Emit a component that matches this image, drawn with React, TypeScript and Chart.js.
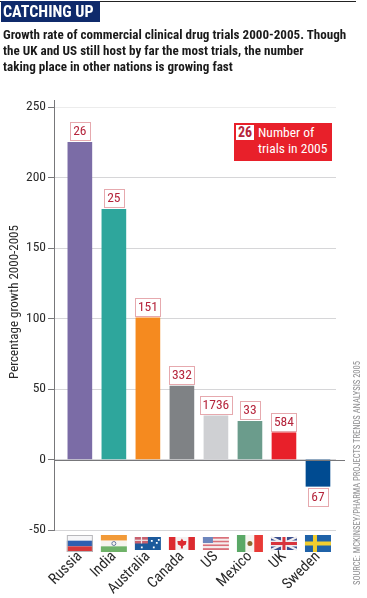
import React, { useEffect, useRef } from "react";
import { Chart, registerables } from "chart.js";

Chart.register(...registerables);

const countries = ["Russia", "India", "Australia", "Canada", "US", "Mexico", "UK", "Sweden"];
const growth = [225, 177.5, 100.5, 52, 31, 27, 19, -19];
const trials = [26, 25, 151, 332, 1736, 33, 584, 67];
const barColors = ["#7b6ca6", "#2ea69c", "#f58a1f", "#7f8285", "#cfd0d3", "#6b9c8c", "#e8202a", "#004b91"];
const yAxisTitle = "Percentage growth 2000-2005";

const FONT = '"Roboto Condensed", Roboto, sans-serif';

type Ctx = CanvasRenderingContext2D;
function drawFlag(c: Ctx, name: string, cx: number) {
  const tall = ["Russia", "India", "Mexico", "Sweden"].includes(name);
  const w = 26;
  const h = tall ? 17 : 13;
  const x = cx - w / 2;
  const y = tall ? 535 : 537;
  const band = (cols: string[], vertical = false) => {
    cols.forEach((col, i) => {
      c.fillStyle = col;
      if (vertical) c.fillRect(x + (i * w) / cols.length, y, w / cols.length, h);
      else c.fillRect(x, y + (i * h) / cols.length, w, h / cols.length);
    });
  };
  c.save();
  if (name === "Russia") {
    band(["#f6f6f8", "#2f5fb0", "#d8383a"]);
    c.strokeStyle = "#b8b8bc";
    c.lineWidth = 1;
    c.strokeRect(x + 0.5, y + 0.5, w - 1, h - 1);
  }
  if (name === "India") {
    band(["#f29a38", "#f6f4ee", "#6fb268"]);
    c.strokeStyle = "#6a7aa0";
    c.beginPath();
    c.arc(cx, y + h / 2, 2, 0, 7);
    c.stroke();
  }
  if (name === "Australia") {
    band(["#1c5a9c"]);
    c.fillStyle = "#c8606e";
    c.fillRect(x, y, 13, 6.5);
    c.fillStyle = "#f0e8ea";
    c.fillRect(x, y + 2.7, 13, 1.2);
    c.fillRect(x + 6, y, 1.2, 6.5);
    c.fillStyle = "#fff";
    [[6, 9.5], [16, 3], [21, 5], [18, 9.5], [23, 2]].forEach(([a, b]) => c.fillRect(x + a, y + b, 1.8, 1.8));
  }
  if (name === "Canada") {
    c.fillStyle = "#f4f2f2";
    c.fillRect(x, y, w, h);
    c.fillStyle = "#dc2b30";
    c.fillRect(x, y, 6.5, h);
    c.fillRect(x + w - 6.5, y, 6.5, h);
    c.beginPath();
    c.moveTo(cx, y + 1.5);
    c.lineTo(cx + 1.5, y + 4);
    c.lineTo(cx + 4.5, y + 4);
    c.lineTo(cx + 4, y + 7.5);
    c.lineTo(cx + 1, y + 9);
    c.lineTo(cx + 1, y + 11.5);
    c.lineTo(cx - 1, y + 11.5);
    c.lineTo(cx - 1, y + 9);
    c.lineTo(cx - 4, y + 7.5);
    c.lineTo(cx - 4.5, y + 4);
    c.lineTo(cx - 1.5, y + 4);
    c.closePath();
    c.fill();
  }
  if (name === "US") {
    band(["#d9707a", "#f4eeee", "#d9707a", "#f4eeee", "#d9707a", "#f4eeee", "#d9707a"]);
    c.fillStyle = "#6d86bd";
    c.fillRect(x, y, 10, 6);
  }
  if (name === "Mexico") {
    band(["#5aa866", "#f6f4f0", "#e83a36"], true);
    c.fillStyle = "#8a6a30";
    c.beginPath();
    c.arc(cx, y + h / 2, 2.5, 0, 7);
    c.fill();
  }
  if (name === "UK") {
    band(["#3a4f8e"]);
    c.strokeStyle = "#f0eef0";
    c.lineWidth = 2.5;
    c.beginPath();
    c.moveTo(x, y);
    c.lineTo(x + w, y + h);
    c.moveTo(x + w, y);
    c.lineTo(x, y + h);
    c.stroke();
    c.fillStyle = "#f0eef0";
    c.fillRect(cx - 3, y, 6, h);
    c.fillRect(x, y + h / 2 - 3, w, 6);
    c.fillStyle = "#d8343c";
    c.fillRect(cx - 1.5, y, 3, h);
    c.fillRect(x, y + h / 2 - 1.5, w, 3);
  }
  if (name === "Sweden") {
    band(["#1f62a8"]);
    c.fillStyle = "#f2cd2e";
    c.fillRect(x + 8, y, 4, h);
    c.fillRect(x, y + h / 2 - 2, w, 4);
  }
  c.restore();
}

const extras = {
  id: "extras",
  afterDatasetsDraw(chart: any) {
    const c: Ctx = chart.ctx;
    const xs = chart.scales.x;
    const ys = chart.scales.y;
    c.save();
    c.strokeStyle = "#77777a";
    c.lineWidth = 1;
    c.beginPath();
    c.moveTo(chart.chartArea.left, Math.round(ys.getPixelForValue(0)) + 0.5);
    c.lineTo(345, Math.round(ys.getPixelForValue(0)) + 0.5);
    c.stroke();
    c.font = `13.5px ${FONT}`;
    c.textAlign = "center";
    c.textBaseline = "middle";
    trials.forEach((t, i) => {
      const cx = xs.getPixelForValue(i);
      const label = String(t);
      const w = Math.round(c.measureText(label).width) + 5 + (label.length < 3 ? 2 : 0);
      const h = 18;
      const v = growth[i];
      const top = v >= 0 ? Math.round(ys.getPixelForValue(v)) - h - 2 : Math.round(ys.getPixelForValue(v)) + 2;
      c.fillStyle = "#fff";
      c.fillRect(cx - w / 2, top, w, h);
      c.strokeStyle = "#e6a9ae";
      c.strokeRect(Math.round(cx - w / 2) + 0.5, top + 0.5, w, h);
      c.fillStyle = "#b5253c";
      c.fillText(label, cx, top + h / 2 + 1);
      drawFlag(c, countries[i], cx);
    });
    c.translate(15, 302);
    c.rotate(-Math.PI / 2);
    c.font = `13px ${FONT}`;
    c.fillStyle = "#2a2a2a";
    c.fillText(yAxisTitle, 0, 0);
    c.restore();
  },
};

export default function App() {
  const ref = useRef<HTMLCanvasElement>(null);
  useEffect(() => {
    const chart = new Chart(ref.current!, {
      type: "bar",
      data: {
        datasets: [
          {
            data: growth.map((y, x) => ({ x, y })),
            backgroundColor: barColors,
            barThickness: 24,
          },
        ],
      },
      plugins: [extras],
      options: {
        responsive: false,
        animation: false,
        parsing: false as any,
        layout: { padding: { top: 100, right: 31, left: 0, bottom: 0 } },
        plugins: { legend: { display: false }, tooltip: { enabled: false } },
        scales: {
          x: {
            type: "linear",
            offset: false,
            min: -0.76,
            max: 7.53,
            grid: { display: false },
            border: { display: false },
            afterFit(s: any) {
              s.height = 68;
              s.paddingLeft = 0;
              s.paddingRight = 0;
            },
            afterBuildTicks(s: any) {
              s.ticks = countries.map((_, i) => ({ value: i }));
            },
            ticks: {
              autoSkip: false,
              minRotation: 45,
              maxRotation: 45,
              padding: 10,
              color: "#2a2a2a",
              font: { family: FONT, size: 15 },
              callback: (v: any) => countries[v as number],
            },
          },
          y: {
            min: -50,
            max: 255,
            afterFit(s: any) {
              s.width = 54;
              s.paddingTop = 0;
              s.paddingBottom = 0;
            },
            grid: {
              color: (ctx: any) => (ctx.tick?.value === 250 ? "#ececec" : "#d6d6d8"),
              tickColor: "#77777a",
              tickLength: 6,
            },
            border: { color: "#77777a" },
            ticks: {
              stepSize: 50,
              includeBounds: false,
              padding: 2,
              color: "#2a2a2a",
              font: { family: FONT, size: 13.5 },
            },
          },
        },
      },
    } as any);
    return () => chart.destroy();
  }, []);

  const line: React.CSSProperties = { position: "absolute", left: 3, whiteSpace: "nowrap", color: "#1a1a1a", fontFamily: FONT, fontWeight: 700, fontSize: 13.1, lineHeight: "16px" };
  return (
    <div style={{ position: "absolute", left: 0, top: 0, width: 367, height: 598, background: "#fff", overflow: "hidden" }}>
      <canvas ref={ref} width={367} height={598} style={{ position: "absolute", left: 0, top: 0 }} />
      <div style={{ position: "absolute", left: 0, top: 1, width: 356, height: 1, background: "#222" }} />
      <div style={{ position: "absolute", left: 1, top: 1, width: 99, height: 21, background: "#0f2a6b", color: "#fff", fontFamily: FONT, fontWeight: 700, fontSize: 16, lineHeight: "22px", paddingLeft: 2, boxSizing: "border-box", whiteSpace: "nowrap" }}>CATCHING UP</div>
      <div style={{ ...line, top: 27 }}>Growth rate of commercial clinical drug trials 2000-2005. Though</div>
      <div style={{ ...line, top: 43 }}>the UK and US still host by far the most trials, the number</div>
      <div style={{ ...line, top: 59 }}>taking place in other nations is growing fast</div>
      <div style={{ position: "absolute", left: 234, top: 123, width: 98, height: 38, background: "#e8202a" }} />
      <div style={{ position: "absolute", left: 236, top: 125, width: 18, height: 15, background: "#fff", color: "#b5253c", fontFamily: FONT, fontWeight: 700, fontSize: 14, lineHeight: "15px", textAlign: "center" }}>26</div>
      <div style={{ position: "absolute", left: 258, top: 125, color: "#fff", fontFamily: FONT, fontSize: 13.5, lineHeight: "15.5px", whiteSpace: "nowrap" }}>Number of<br />trials in 2005</div>
      <div style={{ position: "absolute", left: 357, top: 473, transform: "translate(-50%,-50%) rotate(-90deg)", color: "#8a8a8c", fontFamily: FONT, fontSize: 8.5, whiteSpace: "nowrap" }}>SOURCE: MCKINSEY/PHARMA PROJECTS TRENDS ANALYSIS 2005</div>
    </div>
  );
}
